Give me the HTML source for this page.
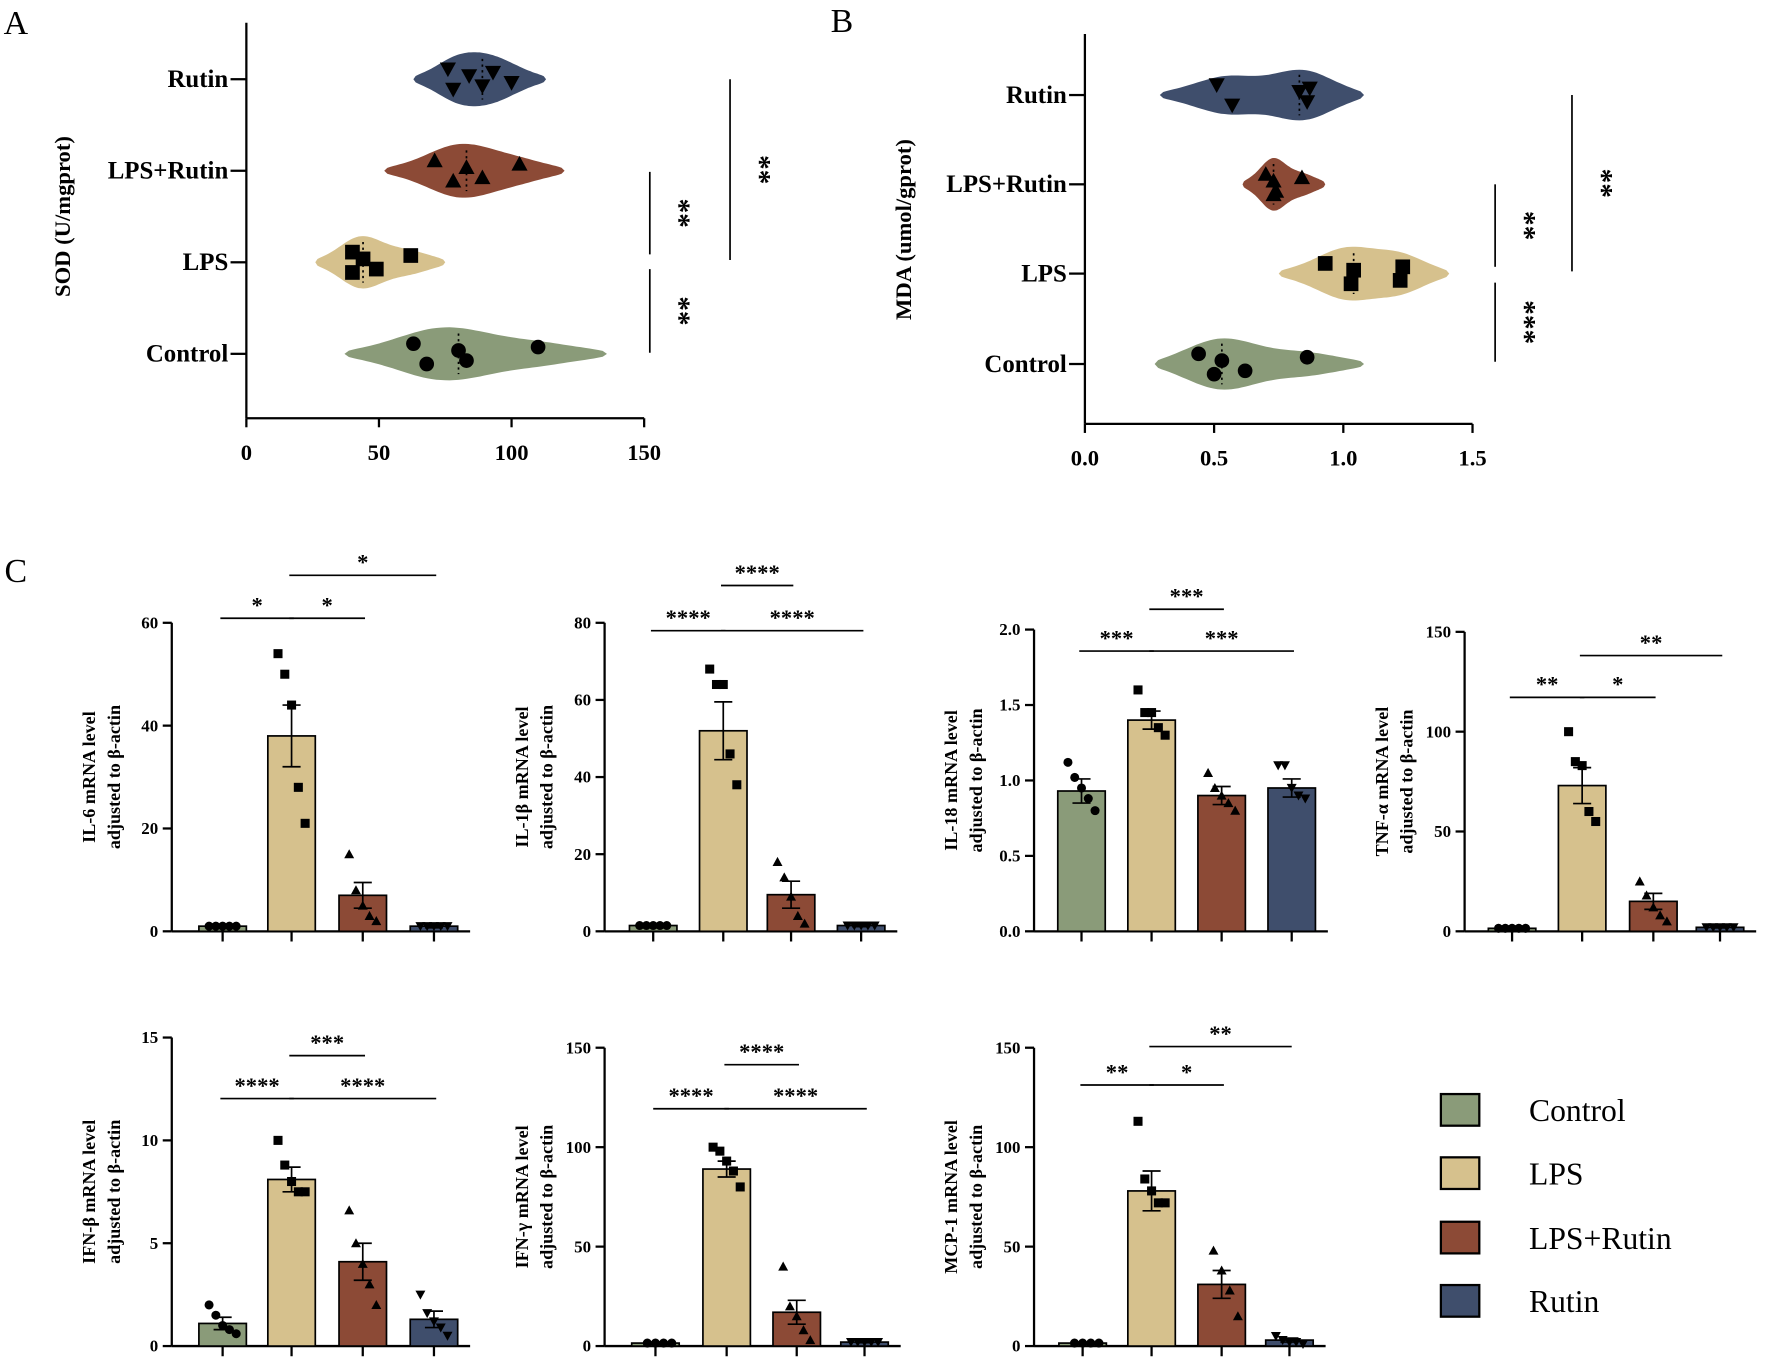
<!DOCTYPE html>
<html><head><meta charset="utf-8"><style>
html,body{margin:0;padding:0;background:#fff}
svg{display:block}
text{font-family:"Liberation Serif",serif;fill:#000}
</style></head><body>
<svg id="fig" xmlns="http://www.w3.org/2000/svg" width="1772" height="1362" viewBox="0 0 1568 1205"></svg>
<script>
// ---------- Violin data (panel A: SOD, panel B: MDA) ----------
const violinCats = ["Rutin","LPS+Rutin","LPS","Control"];
const sodPts = [[76,78,84,89,93,100],[71,78,83,89,103],[40,40,44,49,62],[63,68,80,83,110]];
const sodRange = [[63,113],[52,120],[26,75],[37,136]];
const mdaPts = [[0.51,0.57,0.83,0.86,0.87],[0.7,0.73,0.73,0.74,0.84],[0.93,1.03,1.04,1.22,1.23],[0.44,0.5,0.53,0.62,0.86]];
const mdaRange = [[0.29,1.08],[0.61,0.93],[0.75,1.41],[0.27,1.08]];
const sodTicks = [0,50,100,150];
const mdaTicks = ["0.0","0.5","1.0","1.5"];

// ---------- Bar chart data ----------
const groups = ["Control","LPS","LPS+Rutin","Rutin"];
const il6Mean=[1,38,7,1], il6Err=[0.3,6,2.5,0.3];
const il6Pts=[[1,1,1,1,1],[54,50,44,28,21],[15,8,5,3,2],[1,1,1,1,1]];
const il1bMean=[1.5,52,9.5,1.5], il1bErr=[0.3,7.5,3.5,0.3];
const il1bPts=[[1.5,1.5,1.5,1.5,1.5],[68,64,64,46,38],[18,14,9,4,2],[1.5,1.5,1.5,1.5,1.5]];
const il18Mean=[0.93,1.4,0.9,0.95], il18Err=[0.08,0.06,0.06,0.06];
const il18Pts=[[1.12,1.02,0.95,0.88,0.8],[1.6,1.45,1.45,1.35,1.3],[1.05,0.95,0.9,0.85,0.8],[1.1,1.1,0.95,0.9,0.88]];
const tnfMean=[1.5,73,15,2], tnfErr=[0.3,9,4,0.3];
const tnfPts=[[1.5,1.5,1.5,1.5,1.5],[100,85,83,60,55],[25,18,12,8,5],[2,2,2,2,2]];
const ifnbMean=[1.1,8.1,4.1,1.3], ifnbErr=[0.3,0.6,0.9,0.4];
const ifnbPts=[[2,1.5,1,0.8,0.6],[10,8.8,8,7.5,7.5],[6.6,5,4,3,2],[2.5,1.6,1.2,0.9,0.5]];
const ifngMean=[1.5,89,17,2], ifngErr=[0.3,4,6,0.3];
const ifngPts=[[1.5,1.5,1.5,1.5],[100,98,93,88,80],[40,20,15,8,3],[2,2,2,2,2]];
const mcpMean=[1.5,78,31,3], mcpErr=[0.3,10,7,1];
const mcpPts=[[1.5,1.5,1.5,1.5],[113,84,78,72,72],[48,38,28,15],[5,3,2,2,1]];

const colors=["#8a9b79","#d6c18d","#8c4a36","#3f4e6c"];
const svg=document.getElementById('fig');
const NS="http://www.w3.org/2000/svg";
function mk(tag,attrs,parent){const e=document.createElementNS(NS,tag);for(const k in attrs)e.setAttribute(k,attrs[k]);(parent||svg).appendChild(e);return e;}
function txt(x,y,s,size,anchor,parent,extra){const t=mk('text',Object.assign({x:x,y:y,'font-size':size,'font-weight':'bold','text-anchor':anchor||'middle'},extra||{}),parent);t.textContent=s;return t;}

function marker(kind,x,y,s,parent){
  let e;
  if(kind===0) e=mk('circle',{cx:x,cy:y,r:s,fill:'#000'},parent);
  else if(kind===1) e=mk('rect',{x:x-s,y:y-s,width:2*s,height:2*s,fill:'#000'},parent);
  else if(kind===2) e=mk('polygon',{points:`${x},${y-s*1.1} ${x-s*1.1},${y+s*0.9} ${x+s*1.1},${y+s*0.9}`,fill:'#000'},parent);
  else e=mk('polygon',{points:`${x},${y+s*1.1} ${x-s*1.1},${y-s*0.9} ${x+s*1.1},${y-s*0.9}`,fill:'#000'},parent);
  return e;
}

// ---------- panel labels ----------
const la=txt(14,30,"A",30,'middle',svg,{'font-weight':'normal'});  
const lb=txt(745,28,"B",30,'middle',svg,{'font-weight':'normal'});  
const lc=txt(14,515,"C",30,'middle',svg,{'font-weight':'normal'});  

// ---------- violin panel ----------
function violinPanel(cfg){
  const g=mk('g',{});
  
  
  const xs=v=>cfg.x0+(v-cfg.vmin)/(cfg.vmax-cfg.vmin)*(cfg.x1-cfg.x0);
  mk('line',{x1:cfg.x0,y1:cfg.yTop,x2:cfg.x0,y2:cfg.yAxis,stroke:'#000','stroke-width':2},g);
  mk('line',{x1:cfg.x0,y1:cfg.yAxis,x2:cfg.x1,y2:cfg.yAxis,stroke:'#000','stroke-width':2},g);
  cfg.ticks.forEach(t=>{const v=parseFloat(t);const x=xs(v);
    mk('line',{x1:x,y1:cfg.yAxis,x2:x,y2:cfg.yAxis+8,stroke:'#000','stroke-width':2},g);
    const tl=txt(x,cfg.yAxis+37,String(t),20,'middle',g);  });
  const yt=txt(0,0,cfg.title,20,'middle',g,{transform:`translate(${cfg.titleX},${(cfg.cy[0]+cfg.cy[3])/2}) rotate(-90)`});
   
  violinCats.forEach((c,i)=>{
    const cy=cfg.cy[i];
    mk('line',{x1:cfg.x0-14,y1:cy,x2:cfg.x0,y2:cy,stroke:'#000','stroke-width':2},g);
    const cl=txt(cfg.x0-16,cy+7,c,22,'end',g);  
    const pts=cfg.pts[i], [lo,hi]=cfg.range[i];
    const bw=(hi-lo)/7;
    const N=60, dens=[];
    for(let k=0;k<=N;k++){const v=lo+(hi-lo)*k/N;let d=0;pts.forEach(p=>{d+=Math.exp(-0.5*((v-p)/bw)**2);});dens.push([v,d]);}
    const dmax=Math.max(...dens.map(d=>d[1]));
    const top=[],bot=[];
    dens.forEach(([v,d],k)=>{const taper=Math.sin(Math.PI*k/N)**0.35;const h=cfg.maxH*(0.25+0.75*d/dmax)*taper;top.push(`${xs(v).toFixed(1)},${(cy-h).toFixed(1)}`);bot.unshift(`${xs(v).toFixed(1)},${(cy+h).toFixed(1)}`);});
    const vp=mk('polygon',{points:top.concat(bot).join(' '),fill:colors[3-i]},g);
    
    
    const sorted=pts.slice().sort((a,b)=>a-b);
    const med=sorted[Math.floor(sorted.length/2)];
    mk('line',{x1:xs(med),y1:cy-18,x2:xs(med),y2:cy+18,stroke:'#000','stroke-width':1.5,'stroke-dasharray':'2,3'},g);
    const offs=[-9,9,-3,6,-6,3];
    pts.forEach((p,j)=>{const m=marker(3-i,xs(p),cy+offs[j%offs.length],cfg.ms,g);
       });
  });
  cfg.sig.forEach(s=>{
    mk('line',{x1:s[0],y1:s[1],x2:s[0],y2:s[2],stroke:'#000','stroke-width':1.5},g);
    const st=txt(0,0,s[3],26,'middle',g,{transform:`translate(${s[0]+18},${(s[1]+s[2])/2}) rotate(90)`});
     
  });
}
violinPanel({name:'sod-violin-chart',x0:218,x1:570,vmin:0,vmax:150,yTop:20,yAxis:370,ticks:sodTicks,cy:[70,151,232,313],
  pts:sodPts,range:sodRange,maxH:24,ms:6.5,title:"SOD (U/mgprot)",titleX:62,
  sig:[[575,152,225,"**"],[575,238,312,"**"],[646,70,230,"**"]]});
violinPanel({name:'mda-violin-chart',x0:960,x1:1303,vmin:0,vmax:1.5,yTop:30,yAxis:375,ticks:mdaTicks,cy:[84,163,242,322],
  pts:mdaPts,range:mdaRange,maxH:24,ms:6.5,title:"MDA (umol/gprot)",titleX:806,
  sig:[[1323,163,236,"**"],[1323,250,320,"***"],[1391,84,240,"**"]]});

// ---------- bar panel ----------
function barPanel(cfg){
  const g=mk('g',{});
  
  
  const ys=v=>cfg.yb-(v/cfg.vmax)*(cfg.yb-cfg.yt);
  const cx=cfg.cx;
  mk('line',{x1:cfg.ax,y1:cfg.yt,x2:cfg.ax,y2:cfg.yb,stroke:'#000','stroke-width':2},g);
  mk('line',{x1:cfg.ax,y1:cfg.yb,x2:cx[3]+32,y2:cfg.yb,stroke:'#000','stroke-width':2},g);
  cfg.ticks.forEach(t=>{const y=ys(parseFloat(t));
    mk('line',{x1:cfg.ax-8,y1:y,x2:cfg.ax,y2:y,stroke:'#000','stroke-width':2},g);
    const tl=txt(cfg.ax-12,y+5,String(t),15,'end',g);  });
  cx.forEach(x=>mk('line',{x1:x,y1:cfg.yb,x2:x,y2:cfg.yb+9,stroke:'#000','stroke-width':2},g));
  const ym=(cfg.yt+cfg.yb)/2;
  const t1=txt(0,0,cfg.title[0],16,'middle',g,{transform:`translate(${cfg.ax-68},${ym}) rotate(-90)`});
   
  const t2=txt(0,0,cfg.title[1],16,'middle',g,{transform:`translate(${cfg.ax-46},${ym}) rotate(-90)`});
   
  const offs=[-12,-6,0,6,12];
  groups.forEach((gname,i)=>{
    const m=cfg.mean[i], e=cfg.err[i];
    const b=mk('rect',{x:cx[i]-21,y:ys(m),width:42,height:cfg.yb-ys(m),fill:colors[i],stroke:'#000','stroke-width':1.5},g);
    
    
    mk('line',{x1:cx[i],y1:ys(m+e),x2:cx[i],y2:ys(Math.max(0,m-e)),stroke:'#000','stroke-width':1.5},g);
    mk('line',{x1:cx[i]-8,y1:ys(m+e),x2:cx[i]+8,y2:ys(m+e),stroke:'#000','stroke-width':1.5},g);
    mk('line',{x1:cx[i]-8,y1:ys(Math.max(0,m-e)),x2:cx[i]+8,y2:ys(Math.max(0,m-e)),stroke:'#000','stroke-width':1.5},g);
    const pts=cfg.pts[i];
    pts.forEach((p,j)=>{const mm=marker(i,cx[i]+offs[(j+(5-pts.length))%5]*(pts.length<5?1.2:1),ys(p),4,g);
       });
  });
  cfg.sig.forEach(s=>{
    const x1=cx[s[0]]-2, x2=cx[s[1]]+2;
    mk('line',{x1:x1,y1:s[2],x2:x2,y2:s[2],stroke:'#000','stroke-width':1.5},g);
    const st=txt((x1+x2)/2,s[2]-5,s[3],20,'middle',g);
     
  });
}
barPanel({name:'il6-bar-chart',ax:152,yt:551,yb:824,vmax:60,ticks:[0,20,40,60],cx:[197,258,321,384],mean:il6Mean,err:il6Err,pts:il6Pts,
  title:["IL-6 mRNA level","adjusted to β-actin"],sig:[[0,1,547,"*"],[1,2,547,"*"],[1,3,509,"*"]]});
barPanel({name:'il1b-bar-chart',ax:535,yt:551,yb:824,vmax:80,ticks:[0,20,40,60,80],cx:[578,640,700,762],mean:il1bMean,err:il1bErr,pts:il1bPts,
  title:["IL-1β mRNA level","adjusted to β-actin"],sig:[[0,1,558,"****"],[1,2,518,"****"],[1,3,558,"****"]]});
barPanel({name:'il18-bar-chart',ax:915,yt:557,yb:824,vmax:2,ticks:["0.0","0.5","1.0","1.5","2.0"],cx:[957,1019,1081,1143],mean:il18Mean,err:il18Err,pts:il18Pts,
  title:["IL-18 mRNA level","adjusted to β-actin"],sig:[[0,1,576,"***"],[1,2,539,"***"],[1,3,576,"***"]]});
barPanel({name:'tnf-bar-chart',ax:1296,yt:559,yb:824,vmax:150,ticks:[0,50,100,150],cx:[1338,1400,1463,1522],mean:tnfMean,err:tnfErr,pts:tnfPts,
  title:["TNF-α mRNA level","adjusted to β-actin"],sig:[[0,1,617,"**"],[1,2,617,"*"],[1,3,580,"**"]]});
barPanel({name:'ifnb-bar-chart',ax:152,yt:918,yb:1191,vmax:15,ticks:[0,5,10,15],cx:[197,258,321,384],mean:ifnbMean,err:ifnbErr,pts:ifnbPts,
  title:["IFN-β mRNA level","adjusted to β-actin"],sig:[[0,1,972,"****"],[1,2,934,"***"],[1,3,972,"****"]]});
barPanel({name:'ifng-bar-chart',ax:535,yt:927,yb:1191,vmax:150,ticks:[0,50,100,150],cx:[580,643,705,765],mean:ifngMean,err:ifngErr,pts:ifngPts,
  title:["IFN-γ mRNA level","adjusted to β-actin"],sig:[[0,1,981,"****"],[1,2,942,"****"],[1,3,981,"****"]]});
barPanel({name:'mcp1-bar-chart',ax:915,yt:927,yb:1191,vmax:150,ticks:[0,50,100,150],cx:[958,1019,1081,1141],mean:mcpMean,err:mcpErr,pts:mcpPts,
  title:["MCP-1 mRNA level","adjusted to β-actin"],sig:[[0,1,960,"**"],[1,2,960,"*"],[1,3,926,"**"]]});

// ---------- legend ----------
const lg=mk('g',{});


const legY=[982,1038,1095,1151];
groups.forEach((gname,i)=>{
  const r=mk('rect',{x:1275,y:legY[i]-14,width:34,height:28,fill:colors[i],stroke:'#000','stroke-width':2},lg);
  
  
  const t=txt(1353,legY[i]+10,gname,28,'start',lg,{'font-weight':'normal'});
  
  
});
</script>
</body></html>
